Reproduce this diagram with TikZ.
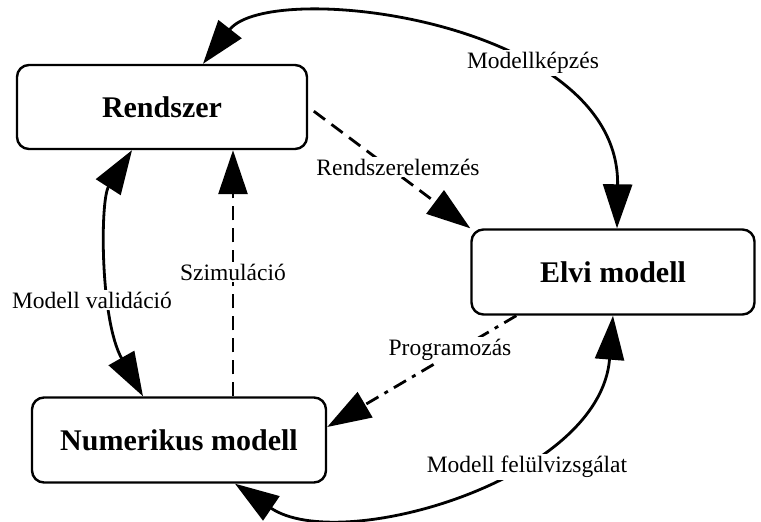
\documentclass[tikz,border=0pt]{standalone}
\usepackage{fontspec}
\setmainfont{Liberation Serif}
\usetikzlibrary{arrows.meta}
\tikzset{
  box/.style={draw, line width=2.4pt, rounded corners=12pt, font=\fontsize{30}{34}\selectfont\bfseries},
  lbl/.style={fill=white, inner sep=2pt, font=\fontsize{23.5}{26}\selectfont},
  conn/.style={line width=2.8pt},
  onehead/.style={-{Triangle[length=44pt,width=29pt]}},
  twohead/.style={{Triangle[length=44pt,width=29pt]}-{Triangle[length=44pt,width=29pt]}},
  dsh/.style={dash pattern=on 14pt off 8pt},
  dshdot/.style={dash pattern=on 14pt off 7pt on 4pt off 7pt}
}
\begin{document}
\begin{tikzpicture}[x=1pt,y=-1pt]
\useasboundingbox (0,0) rectangle (761,522);
\node[box, minimum width=290pt, minimum height=84pt] (rsz) at (162,107) {Rendszer};
\node[box, minimum width=283pt, minimum height=85pt] (elvi) at (613,272) {Elvi modell};
\node[box, minimum width=294pt, minimum height=85pt] (num) at (179,440) {Numerikus modell};
\coordinate (szimpos) at (233,272);
% ives nyilak
\draw[conn, twohead] ([xshift=41pt]rsz.north) .. controls (270,-22) and (620,20) .. ([xshift=4pt]elvi.north);
\draw[conn, twohead] ([xshift=-30pt]rsz.south) .. controls (100,200) and (100,320) .. ([xshift=-36pt]num.north);
\draw[conn, twohead] ([xshift=56pt]num.south) .. controls (340,555) and (600,480) .. (elvi.south);
% szaggatott nyilak
\draw[conn, dsh, onehead] (szimpos |- num.north) -- (szimpos |- rsz.south);
\draw[conn, dsh, onehead, shorten <=7pt] (rsz.east) -- (elvi.north west);
\draw[conn, dshdot, onehead] ([xshift=46pt]elvi.south west) -- ([yshift=13pt]num.east);
% feliratok
\node[lbl] (szim) at (szimpos) {Szimuláció};
\node[lbl] (mkep) at (533,63) {Modellképzés};
\node[lbl] (relem) at (398,167) {Rendszerelemzés};
\node[lbl] (valid) at (92,300) {Modell validáció};
\node[lbl] (prog) at (450,350) {Programozás};
\node[lbl] (felul) at (527,467) {Modell felülvizsgálat};
\end{tikzpicture}
\end{document}
